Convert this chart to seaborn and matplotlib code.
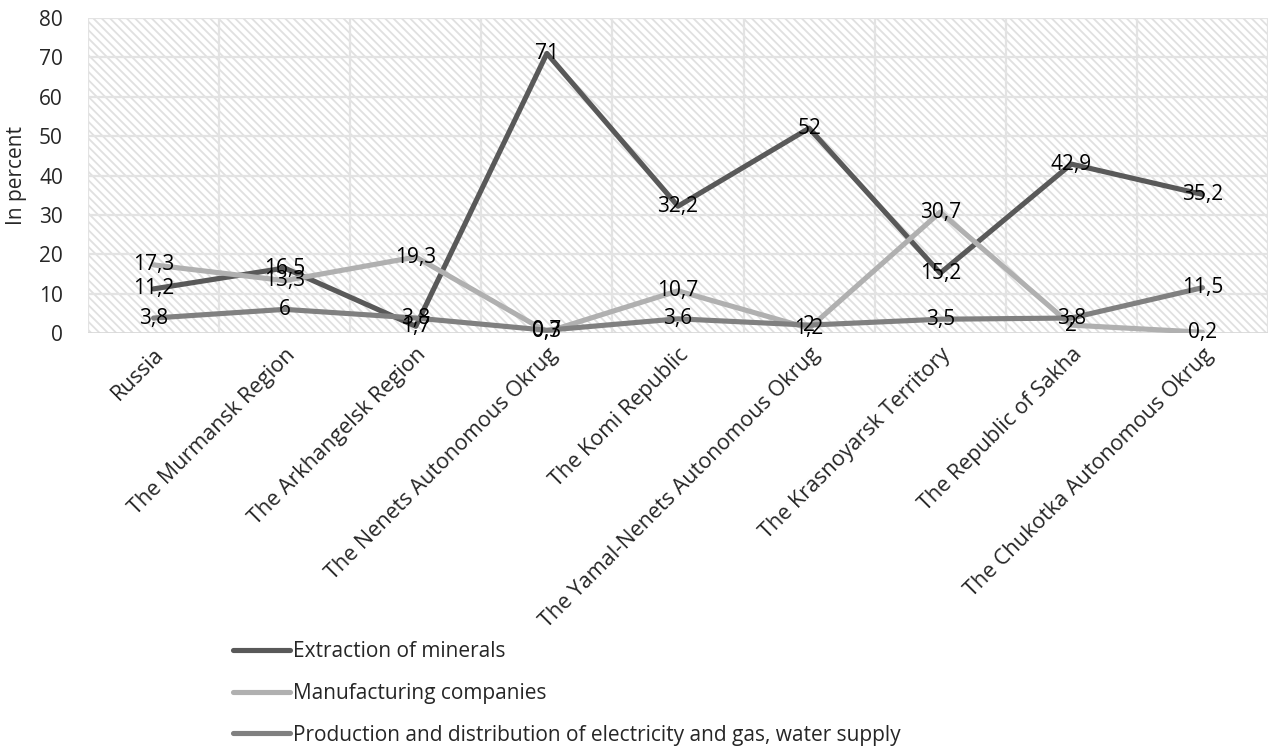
import matplotlib
matplotlib.use("Agg")
import matplotlib.pyplot as plt
import seaborn as sns
import pandas as pd
from matplotlib.patches import Rectangle

regions = ["Russia", "The Murmansk Region", "The Arkhangelsk Region",
           "The Nenets Autonomous Okrug", "The Komi Republic",
           "The Yamal-Nenets Autonomous Okrug", "The Krasnoyarsk Territory",
           "The Republic of Sakha", "The Chukotka Autonomous Okrug"]
series_names = ["Extraction of minerals", "Manufacturing companies",
                "Production and distribution of electricity and gas, water supply"]
extraction = [11.2, 16.5, 1.7, 71, 32.2, 52, 15.2, 42.9, 35.2]
manufacturing = [17.3, 13.3, 19.3, 0.3, 10.7, 1.2, 30.7, 2, 0.2]
electricity = [3.8, 6, 3.8, 0.7, 3.6, 2, 3.5, 3.8, 11.5]
colors = ["#595959", "#b0b0b0", "#808080"]

sns.set_theme(style="white")
plt.rcParams['font.family'] = ['Open Sans', 'DejaVu Sans']
plt.rcParams['hatch.color'] = "#e0e0e0"
plt.rcParams['hatch.linewidth'] = 1.3

rows = []
for name, vals in zip(series_names, [extraction, manufacturing, electricity]):
    for i, v in enumerate(vals):
        rows.append({"idx": i, "region": regions[i], "value": v, "series": name})
df = pd.DataFrame(rows)

fig = plt.figure(figsize=(12.82, 7.51), dpi=100)
ax = fig.add_axes([88/1282, 1-333/751, 1180/1282, 315/751])

# hatched background
bg = Rectangle((0, 0), 1, 1, transform=ax.transAxes, facecolor="white",
               edgecolor="#e0e0e0", hatch="\\\\\\\\", linewidth=0, zorder=0)
ax.add_patch(bg)

sns.lineplot(data=df, x="idx", y="value", hue="series", palette=colors,
             hue_order=series_names, linewidth=3.7, sort=False, ax=ax,
             legend=True, zorder=3)

ax.set_xlim(-0.5, len(regions) - 0.5)
ax.set_ylim(0, 80)
ax.set_yticks(range(0, 81, 10))
ax.set_xticks(range(len(regions)))
ax.set_xticklabels(regions, rotation=45, ha="right", rotation_mode="anchor",
                   fontsize=15.5)
ax.tick_params(axis="y", labelsize=15, length=0, pad=18)
ax.tick_params(axis="x", length=0, pad=8)
ax.set_xlabel("")
ax.set_ylabel("In percent", fontsize=15)
ax.yaxis.set_label_coords(-0.052, 0.5)

# grid lines
for y in range(10, 81, 10):
    ax.axhline(y, color="#e3e3e3", linewidth=1.6, zorder=1)
for k in range(len(regions) + 1):
    ax.axvline(k - 0.5, color="#e3e3e3", linewidth=1.6, zorder=1)
for s in ax.spines.values():
    s.set_visible(False)
ax.axhline(0, color="#d9d9d9", linewidth=2, zorder=1)

# data labels
for vals in [extraction, manufacturing, electricity]:
    for i, v in enumerate(vals):
        ax.text(i, v, f"{v:g}".replace(".", ","), ha="center", va="center",
                fontsize=15, color="black", zorder=5)

leg = ax.legend(loc="upper left", bbox_to_anchor=(233/1282, 1-641/751),
                bbox_transform=fig.transFigure, frameon=False, fontsize=15,
                handlelength=2.75, handletextpad=0.15, labelspacing=1.0,
                borderpad=0, borderaxespad=0)
for line in leg.get_lines():
    line.set_linewidth(3.7)

fig.savefig("out.png", dpi=100)
